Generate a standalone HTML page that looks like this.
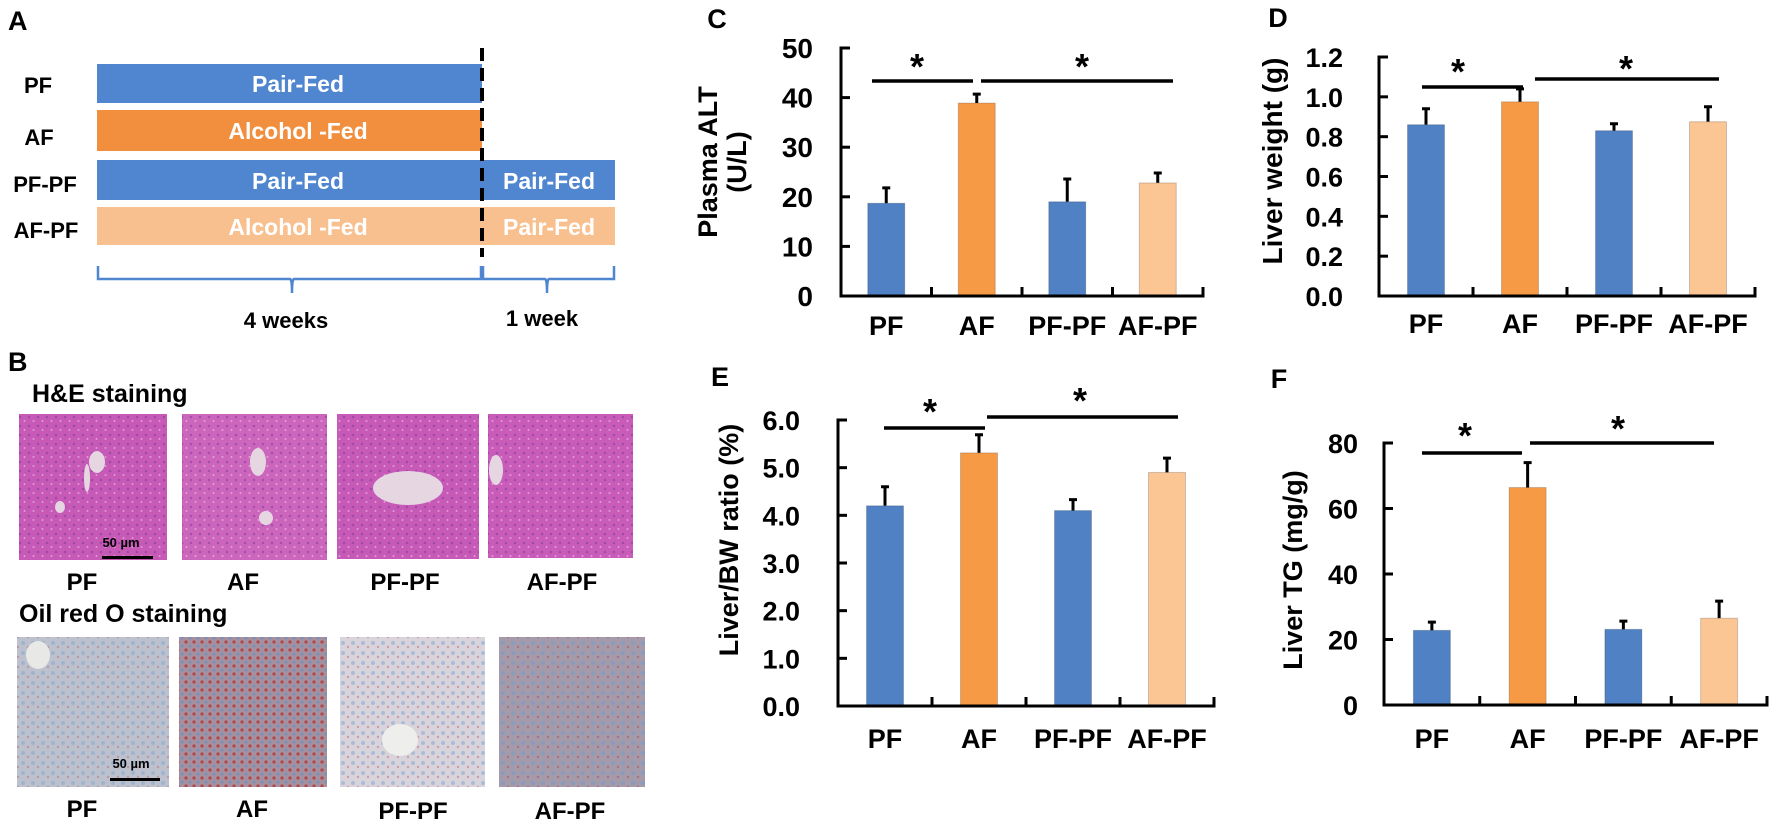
<!DOCTYPE html>
<html><head><meta charset="utf-8"><style>
html,body{margin:0;padding:0;background:#fff;}
svg{display:block;font-family:"Liberation Sans",Arial,sans-serif;font-weight:bold;}
</style></head><body>
<svg id="fig" width="1772" height="827" viewBox="0 0 1772 827" xmlns="http://www.w3.org/2000/svg">
<defs>
 <pattern id="heDots" width="9" height="9" patternUnits="userSpaceOnUse"><circle cx="2" cy="3" r="1.3" fill="#7a3a9a" opacity="0.5"/><circle cx="6.5" cy="7" r="1" fill="#f3c6ec" opacity="0.6"/></pattern>
 <pattern id="oroDots" width="10" height="10" patternUnits="userSpaceOnUse"><circle cx="3" cy="3" r="2" fill="#6f9fd0" opacity="0.55"/><circle cx="8" cy="7" r="1.2" fill="#b04050" opacity="0.45"/></pattern>
 <pattern id="oroRed" width="8" height="8" patternUnits="userSpaceOnUse"><circle cx="2" cy="2" r="1.6" fill="#b52a2a" opacity="0.7"/><circle cx="6" cy="6" r="1.6" fill="#5f8ec4" opacity="0.6"/></pattern>
</defs>

<!-- Panel A -->
<g>
 <text x="8" y="30" font-size="27">A</text>
 <g font-size="22" text-anchor="middle">
  <text x="38" y="93">PF</text>
  <text x="39" y="145">AF</text>
  <text x="45" y="192">PF-PF</text>
  <text x="46" y="238">AF-PF</text>
 </g>
 <rect x="97" y="64" width="385" height="39" fill="#4f86cf"/>
 <rect x="97" y="110" width="385" height="41" fill="#f28f3f"/>
 <rect x="97" y="160" width="385" height="40" fill="#4f86cf"/>
 <rect x="482" y="160" width="133" height="40" fill="#4f86cf"/>
 <rect x="97" y="207" width="385" height="38" fill="#f9c08f"/>
 <rect x="482" y="207" width="133" height="38" fill="#f9c08f"/>
 <g fill="#fff" font-size="23" text-anchor="middle">
  <text x="298" y="92">Pair-Fed</text>
  <text x="298" y="139">Alcohol -Fed</text>
  <text x="298" y="189">Pair-Fed</text>
  <text x="298" y="235">Alcohol -Fed</text>
  <text x="549" y="189">Pair-Fed</text>
  <text x="549" y="235">Pair-Fed</text>
 </g>
 <line x1="482" y1="48" x2="482" y2="257" stroke="#000" stroke-width="4" stroke-dasharray="13,7"/>
 <path d="M98,266 V279 H290 Q292,279 292,293 Q292,279 294,279 H481 V266 M483,266 V279 H545 Q547,279 547,293 Q547,279 549,279 H614 V266" fill="none" stroke="#4f86cf" stroke-width="2.5"/>
 <text x="286" y="328" font-size="22" text-anchor="middle">4 weeks</text>
 <text x="542" y="326" font-size="22" text-anchor="middle">1 week</text>
</g>

<!-- Panel B -->
<g>
 <text x="8" y="371" font-size="27">B</text>
 <text x="32" y="402" font-size="25">H&amp;E staining</text>
 <g>
  <rect x="19" y="414" width="148" height="146" fill="#c65ab6"/><rect x="19" y="414" width="148" height="146" fill="url(#heDots)"/>
  <ellipse cx="97" cy="462" rx="8" ry="11" fill="#e6d6e2"/><ellipse cx="87" cy="478" rx="3" ry="14" fill="#e6d6e2"/><ellipse cx="60" cy="507" rx="5" ry="6" fill="#e6d6e2"/>
  <rect x="182" y="414" width="145" height="146" fill="#cc66bc"/><rect x="182" y="414" width="145" height="146" fill="url(#heDots)"/>
  <ellipse cx="258" cy="462" rx="8" ry="14" fill="#e6d6e2"/><ellipse cx="266" cy="518" rx="7" ry="7" fill="#e6d6e2"/>
  <rect x="337" y="414" width="142" height="145" fill="#c65ab6"/><rect x="337" y="414" width="142" height="145" fill="url(#heDots)"/>
  <ellipse cx="408" cy="488" rx="35" ry="17" fill="#e6d6e2"/>
  <rect x="488" y="414" width="145" height="144" fill="#c85cb8"/><rect x="488" y="414" width="145" height="144" fill="url(#heDots)"/>
  <ellipse cx="496" cy="470" rx="7" ry="15" fill="#e6d6e2"/>
 </g>
 <text x="121" y="547" font-size="13" text-anchor="middle">50 µm</text>
 <rect x="102" y="556" width="51" height="3" fill="#000"/>
 <g font-size="24" text-anchor="middle">
  <text x="82" y="590">PF</text>
  <text x="243" y="590">AF</text>
  <text x="405" y="590">PF-PF</text>
  <text x="562" y="590">AF-PF</text>
 </g>
 <text x="19" y="622" font-size="25">Oil red O staining</text>
 <g>
  <rect x="17" y="637" width="152" height="150" fill="#bcc1cd"/><rect x="17" y="637" width="152" height="150" fill="url(#oroDots)" opacity="0.7"/>
  <ellipse cx="38" cy="655" rx="12" ry="14" fill="#e8e8e6"/>
  <rect x="179" y="637" width="148" height="150" fill="#a7909e"/><rect x="179" y="637" width="148" height="150" fill="url(#oroRed)"/>
  <rect x="340" y="637" width="145" height="150" fill="#d9d3dc"/><rect x="340" y="637" width="145" height="150" fill="url(#oroDots)" opacity="0.8"/>
  <ellipse cx="400" cy="740" rx="18" ry="16" fill="#eeeeec"/>
  <rect x="499" y="637" width="146" height="150" fill="#a59aaa"/><rect x="499" y="637" width="146" height="150" fill="url(#oroDots)"/>
 </g>
 <text x="131" y="768" font-size="13" text-anchor="middle">50 µm</text>
 <rect x="110" y="778" width="50" height="3" fill="#000"/>
 <g font-size="24" text-anchor="middle">
  <text x="82" y="817">PF</text>
  <text x="252" y="817">AF</text>
  <text x="413" y="819">PF-PF</text>
  <text x="570" y="819">AF-PF</text>
 </g>
</g>

<g id="charts"></g>
</svg>
<script>
const categories = ["PF", "AF", "PF-PF", "AF-PF"];
const barColors = ["#4f81c4", "#f79a46", "#4f81c4", "#fbc594"];
const cValues = [18.7, 38.9, 19.0, 22.8];
const cErrors = [3.1, 1.8, 4.6, 2.0];
const cTicks = ["0", "10", "20", "30", "40", "50"];
const dValues = [0.86, 0.975, 0.83, 0.875];
const dErrors = [0.08, 0.065, 0.035, 0.075];
const dTicks = ["0.0", "0.2", "0.4", "0.6", "0.8", "1.0", "1.2"];
const eValues = [4.2, 5.31, 4.1, 4.9];
const eErrors = [0.4, 0.38, 0.23, 0.3];
const eTicks = ["0.0", "1.0", "2.0", "3.0", "4.0", "5.0", "6.0"];
const fValues = [22.8, 66.4, 23.1, 26.5];
const fErrors = [2.5, 7.6, 2.5, 5.2];
const fTicks = ["0", "20", "40", "60", "80"];

const NS = "http://www.w3.org/2000/svg";
const root = document.getElementById("charts");
function el(tag, attrs, parent) {
  const e = document.createElementNS(NS, tag);
  for (const k in attrs) e.setAttribute(k, attrs[k]);
  (parent || root).appendChild(e);
  return e;
}
function drawChart(id, g, values, errors, ticks, maxV) {
  const grp = el("g", {});
  
  
  const yScale = v => g.y0 - (v / maxV) * (g.y0 - g.yTop);
  const catW = (g.x1 - g.x0) / categories.length;
  const xCenter = i => g.x0 + catW * (i + 0.5);
  // bars
  values.forEach((v, i) => {
    const bw = 37;
    const top = yScale(v);
    const eTop = yScale(v + errors[i]);
    const eb = el("path", {d: "M" + xCenter(i) + "," + top + " V" + eTop + " M" + (xCenter(i) - 4) + "," + eTop + " H" + (xCenter(i) + 4), stroke: "#000", "stroke-width": 3, fill: "none"}, grp);
    
    
    const r = el("rect", {x: xCenter(i) - bw / 2, y: top, width: bw, height: g.y0 - top, fill: barColors[i], stroke: "rgba(0,0,0,0.18)", "stroke-width": 1}, grp);
    
    
    const t = el("text", {x: xCenter(i), y: g.catY, "font-size": 27, "text-anchor": "middle"}, grp);
    t.textContent = categories[i];
    
    
  });
  // axes
  const ax = el("path", {d: "M" + (g.x0 + 9) + "," + g.yTop + " H" + g.x0 + " V" + g.y0 + " H" + g.x1 + " V" + (g.y0 - 9), stroke: "#000", "stroke-width": 3, fill: "none"}, grp);
  
  
  for (let i = 1; i < categories.length; i++) {
    const x = g.x0 + catW * i;
    const tk = el("line", {x1: x, x2: x, y1: g.y0, y2: g.y0 - 9, stroke: "#000", "stroke-width": 3}, grp);
    
    
  }
  ticks.forEach((lab, i) => {
    const v = maxV * i / (ticks.length - 1);
    const y = yScale(v);
    const tk = el("line", {x1: g.x0, x2: g.x0 + 9, y1: y, y2: y, stroke: "#000", "stroke-width": 3}, grp);
    
    
    const t = el("text", {x: g.labR, y: y + 10, "font-size": g.fs, "text-anchor": "end"}, grp);
    t.textContent = lab;
    
    
  });
  return grp;
}
function addText(txt, x, y, fs, name, rot) {
  const t = el("text", {x: x, y: y, "font-size": fs, "text-anchor": "middle"});
  if (rot) t.setAttribute("transform", "rotate(-90 " + x + " " + y + ")");
  t.textContent = txt;
  
  
}
function addLine(x1, x2, y, name) {
  const l = el("line", {x1: x1, x2: x2, y1: y, y2: y, stroke: "#000", "stroke-width": 3.5});
  
  
}

drawChart("c", {x0: 841, x1: 1203, y0: 296, yTop: 48, catY: 335, labR: 813, fs: 28}, cValues, cErrors, cTicks, 50);
drawChart("d", {x0: 1379, x1: 1755, y0: 296, yTop: 57, catY: 333, labR: 1343, fs: 27}, dValues, dErrors, dTicks, 1.2);
drawChart("e", {x0: 838, x1: 1214, y0: 706, yTop: 420, catY: 748, labR: 800, fs: 27}, eValues, eErrors, eTicks, 6);
drawChart("f", {x0: 1384, x1: 1767, y0: 705, yTop: 443, catY: 748, labR: 1358, fs: 27}, fValues, fErrors, fTicks, 80);

addText("C", 717, 28, 27, "panel-label-c");
addText("D", 1278, 27, 27, "panel-label-d");
addText("E", 720, 386, 27, "panel-label-e");
addText("F", 1279, 388, 27, "panel-label-f");
addText("Plasma  ALT", 717, 162, 27, "y-axis-title-c", true);
addText("(U/L)", 746, 162, 27, "y-axis-title-c-units", true);
addText("Liver weight (g)", 1282, 161, 28, "y-axis-title-d", true);
addText("Liver/BW ratio  (%)", 738, 540, 27, "y-axis-title-e", true);
addText("Liver TG (mg/g)", 1302, 570, 27, "y-axis-title-f", true);

addLine(872, 973, 81, "sig-line-c-1"); addLine(981, 1173, 81, "sig-line-c-2");
addText("*", 917, 79, 36, "sig-star-c-1"); addText("*", 1082, 79, 36, "sig-star-c-2");
addLine(1422, 1523, 87, "sig-line-d-1"); addLine(1535, 1719, 79, "sig-line-d-2");
addText("*", 1458, 84, 36, "sig-star-d-1"); addText("*", 1626, 81, 36, "sig-star-d-2");
addLine(884, 985, 428, "sig-line-e-1"); addLine(987, 1178, 417, "sig-line-e-2");
addText("*", 930, 424, 36, "sig-star-e-1"); addText("*", 1080, 413, 36, "sig-star-e-2");
addLine(1422, 1522, 453, "sig-line-f-1"); addLine(1530, 1714, 443, "sig-line-f-2");
addText("*", 1465, 448, 36, "sig-star-f-1"); addText("*", 1618, 441, 36, "sig-star-f-2");
</script>
</body></html>
